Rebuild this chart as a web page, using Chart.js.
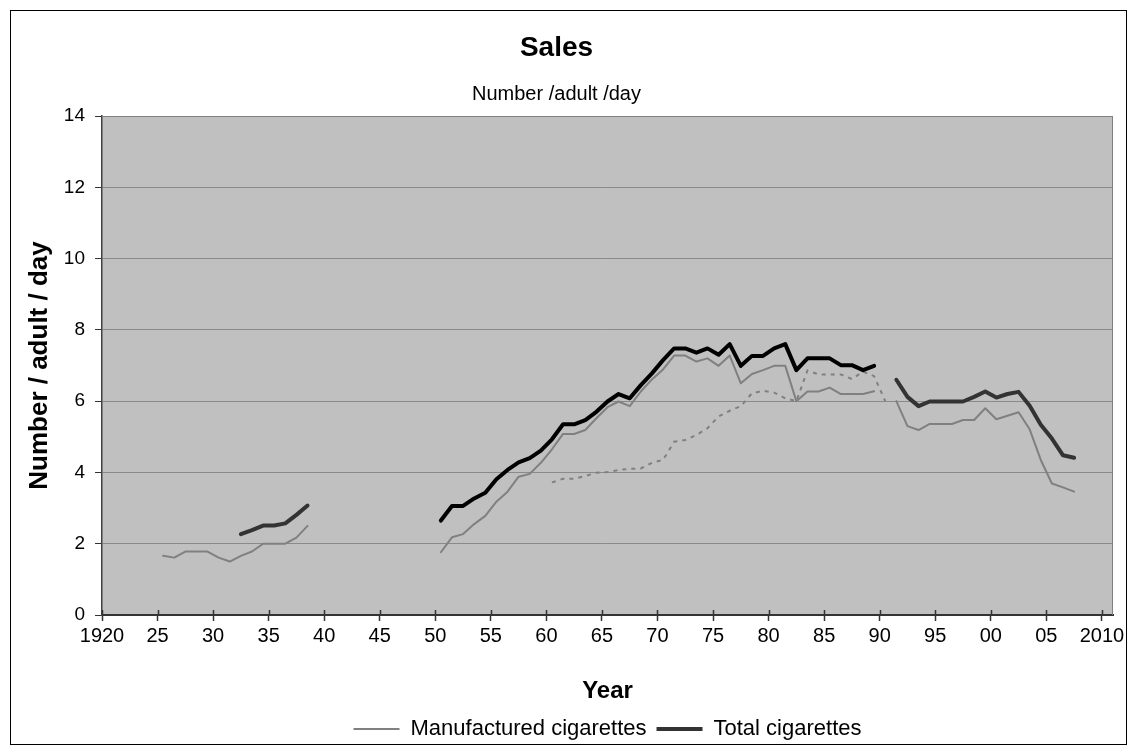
<!DOCTYPE html>
<html>
<head>
<meta charset="utf-8">
<script src="https://cdn.jsdelivr.net/npm/chart.js@4/dist/chart.umd.min.js"></script>
<style>
  html, body { margin: 0; padding: 0; background: #fff; }
  canvas { display: block; }
</style>
</head>
<body>
<canvas id="c" width="1137" height="752"></canvas>
<script>
// ---------------- data ----------------
const years = [];
for (let y = 1925; y <= 2007; y++) years.push(y);

const manufactured = [
  1.66, 1.61, 1.78, 1.78, 1.78, 1.61, 1.50, 1.66, 1.78, 2.00, 2.00, 2.00, 2.17, 2.50, // 1925-1938
  null, null, null, null, null, null, null, null, null, null, null,                   // 1939-1949
  1.76, 2.18, 2.27, 2.55, 2.78, 3.18, 3.46, 3.88, 3.96, 4.27,                         // 1950-1959
  4.65, 5.08, 5.08, 5.19, 5.52, 5.83, 5.99, 5.86, 6.27, 6.61,                         // 1960-1969
  6.89, 7.28, 7.28, 7.11, 7.20, 6.99, 7.28, 6.50, 6.76, 6.87,                         // 1970-1979
  6.99, 6.99, 6.00, 6.27, 6.27, 6.38, 6.20, 6.20, 6.20, 6.28,                         // 1980-1989
  null,                                                                               // 1990
  6.00, 5.30, 5.19, 5.36, 5.36, 5.36, 5.47, 5.47, 5.80,                               // 1991-1999
  5.49, 5.59, 5.69, 5.21, 4.35, 3.69, 3.58, 3.46                                      // 2000-2007
];

const total = [
  null, null, null, null, null, null, null,                                           // 1925-1931
  2.27, 2.38, 2.51, 2.51, 2.57, 2.81, 3.07,                                           // 1932-1938
  null, null, null, null, null, null, null, null, null, null, null,                   // 1939-1949
  2.65, 3.06, 3.06, 3.27, 3.43, 3.81, 4.07, 4.28, 4.40, 4.61,                         // 1950-1959
  4.93, 5.35, 5.35, 5.47, 5.70, 5.99, 6.20, 6.08, 6.45, 6.78,                         // 1960-1969
  7.15, 7.48, 7.48, 7.36, 7.48, 7.30, 7.60, 6.99, 7.27, 7.27,                         // 1970-1979
  7.48, 7.60, 6.87, 7.20, 7.20, 7.20, 7.01, 7.01, 6.87, 6.99,                         // 1980-1989
  null,                                                                               // 1990
  6.60, 6.12, 5.86, 5.99, 5.99, 5.99, 5.99, 6.12, 6.27,                               // 1991-1999
  6.10, 6.20, 6.26, 5.87, 5.34, 4.95, 4.48, 4.41                                      // 2000-2007
];

const otherSeries = [
  null, null, null, null, null, null, null, null, null, null, null, null, null, null, // 1925-1938
  null, null, null, null, null, null, null, null, null, null, null,                   // 1939-1949
  null, null, null, null, null, null, null, null, null, null,                         // 1950-1959
  3.72, 3.82, 3.82, 3.90, 3.99, 4.01, 4.07, 4.10, 4.11, 4.27,                         // 1960-1969
  4.35, 4.86, 4.91, 5.05, 5.24, 5.57, 5.73, 5.86, 6.22, 6.29,                         // 1970-1979
  6.24, 6.08, 6.00, 6.86, 6.75, 6.75, 6.75, 6.62, 6.83, 6.70,                         // 1980-1989
  6.00,                                                                               // 1990
  null, null, null, null, null, null, null, null, null,
  null, null, null, null, null, null, null, null
];

const tickYears  = [1920,1925,1930,1935,1940,1945,1950,1955,1960,1965,1970,1975,1980,1985,1990,1995,2000,2005,2010];
const tickLabels = ['1920','25','30','35','40','45','50','55','60','65','70','75','80','85','90','95','00','05','2010'];
const yTicks = [0, 2, 4, 6, 8, 10, 12, 14];

const seriesNames = ['Manufactured cigarettes', 'Total cigarettes'];
const chartTitle = 'Sales';
const chartSubtitle = 'Number /adult /day';
const xTitle = 'Year';
const yTitle = 'Number / adult / day';

// ---------------- helpers ----------------
const FONT = "'Liberation Sans', Arial, sans-serif";
const toPoints = arr => years.map((yr, i) => ({ x: yr + 0.5, y: arr[i] }));

const decor = {
  id: 'decor',
  beforeDraw(chart) {
    const { ctx, chartArea: a } = chart;
    ctx.save();
    ctx.fillStyle = '#ffffff';
    ctx.fillRect(0, 0, chart.width, chart.height);
    ctx.strokeStyle = '#000000';
    ctx.lineWidth = 1;
    ctx.strokeRect(10.5, 10.5, 1116, 734);
    ctx.fillStyle = '#c0c0c0';
    ctx.fillRect(a.left, a.top, a.right - a.left, a.bottom - a.top);
    ctx.restore();
  },
  afterDatasetsDraw(chart) {
    const { ctx, chartArea: a, scales } = chart;
    ctx.save();
    ctx.strokeStyle = '#808080';
    ctx.lineWidth = 1;
    ctx.beginPath();
    ctx.moveTo(a.left, a.top + 0.5);
    ctx.lineTo(a.right - 0.5, a.top + 0.5);
    ctx.lineTo(a.right - 0.5, a.bottom);
    ctx.stroke();
    ctx.strokeStyle = '#333333';
    ctx.lineWidth = 1.5;
    ctx.beginPath();
    tickYears.forEach(v => {
      const px = Math.round(scales.x.getPixelForValue(v)) + 0.5;
      ctx.moveTo(px, a.bottom);
      ctx.lineTo(px, a.bottom - 5);
    });
    ctx.stroke();
    ctx.restore();
  }
};

new Chart(document.getElementById('c'), {
  type: 'line',
  data: {
    datasets: [
      {
        label: seriesNames[0],
        data: toPoints(manufactured),
        borderColor: '#808080',
        backgroundColor: '#808080',
        borderWidth: 2,
        pointRadius: 0,
        pointStyle: 'line',
        tension: 0,
        spanGaps: false,
        borderJoinStyle: 'round',
        borderCapStyle: 'round',
        order: 2
      },
      {
        label: seriesNames[1],
        data: toPoints(total),
        borderColor: '#333333',
        backgroundColor: '#333333',
        borderWidth: 4,
        pointRadius: 0,
        pointStyle: 'line',
        tension: 0,
        spanGaps: false,
        borderJoinStyle: 'round',
        borderCapStyle: 'round',
        segment: {
          borderColor: c => (c.p0.parsed.x > 1949 && c.p1.parsed.x < 1990.9) ? '#000000' : '#333333'
        },
        order: 1
      },
      {
        label: 'other',
        data: toPoints(otherSeries),
        borderColor: '#808080',
        backgroundColor: '#808080',
        borderWidth: 2,
        borderDash: [4, 5],
        pointRadius: 0,
        pointStyle: 'line',
        tension: 0,
        spanGaps: false,
        order: 3
      }
    ]
  },
  options: {
    responsive: false,
    animation: false,
    devicePixelRatio: 1,
    layout: { padding: { left: 0, right: 24, top: 0, bottom: 2 } },
    plugins: {
      title: {
        display: true,
        text: chartTitle,
        color: '#000',
        font: { family: FONT, size: 28, weight: 'bold', lineHeight: 1.2 },
        padding: { top: 31.2, bottom: 0 }
      },
      subtitle: {
        display: true,
        text: chartSubtitle,
        color: '#000',
        font: { family: FONT, size: 20, weight: 'normal', lineHeight: 1.2 },
        padding: { top: 17.2, bottom: 10 }
      },
      legend: {
        display: true,
        position: 'bottom',
        fullSize: false,
        labels: {
          color: '#000',
          font: { family: FONT, size: 22 },
          usePointStyle: true,
          pointStyle: 'line',
          pointStyleWidth: 46,
          padding: 10,
          filter: item => item.datasetIndex < 2,
          sort: (a, b) => a.datasetIndex - b.datasetIndex
        }
      },
      tooltip: { enabled: false }
    },
    scales: {
      x: {
        type: 'linear',
        min: 1920,
        max: 2011,
        afterFit: s => { s.height = 93; },
        afterBuildTicks: s => { s.ticks = tickYears.map(v => ({ value: v })); },
        ticks: {
          autoSkip: false,
          maxRotation: 0,
          padding: 3,
          color: '#000',
          font: { family: FONT, size: 20 },
          callback: (v, i) => tickLabels[i]
        },
        grid: {
          display: true,
          drawOnChartArea: false,
          drawTicks: true,
          tickLength: 6,
          tickColor: '#333333',
          tickWidth: 1.5
        },
        border: { display: true, color: '#333333', width: 2 },
        title: {
          display: true,
          text: xTitle,
          color: '#000',
          font: { family: FONT, size: 24, weight: 'bold', lineHeight: 1.2 },
          padding: { top: 0, bottom: 2.6 }
        }
      },
      y: {
        type: 'linear',
        min: 0,
        max: 14,
        afterFit: s => { s.width = 102; },
        afterBuildTicks: s => { s.ticks = yTicks.map(v => ({ value: v })); },
        ticks: {
          padding: 10,
          color: '#000',
          font: { family: FONT, size: 19 }
        },
        grid: {
          color: '#8a8a8a',
          lineWidth: 1,
          drawTicks: true,
          tickLength: 7,
          tickColor: '#333333'
        },
        border: { display: true, color: '#404040', width: 1.5 },
        title: {
          display: true,
          text: yTitle,
          color: '#000',
          font: { family: FONT, size: 26, weight: 'bold', lineHeight: 1.2 },
          padding: { top: 24.4, bottom: 0 }
        }
      }
    }
  },
  plugins: [decor]
});
</script>
</body>
</html>
